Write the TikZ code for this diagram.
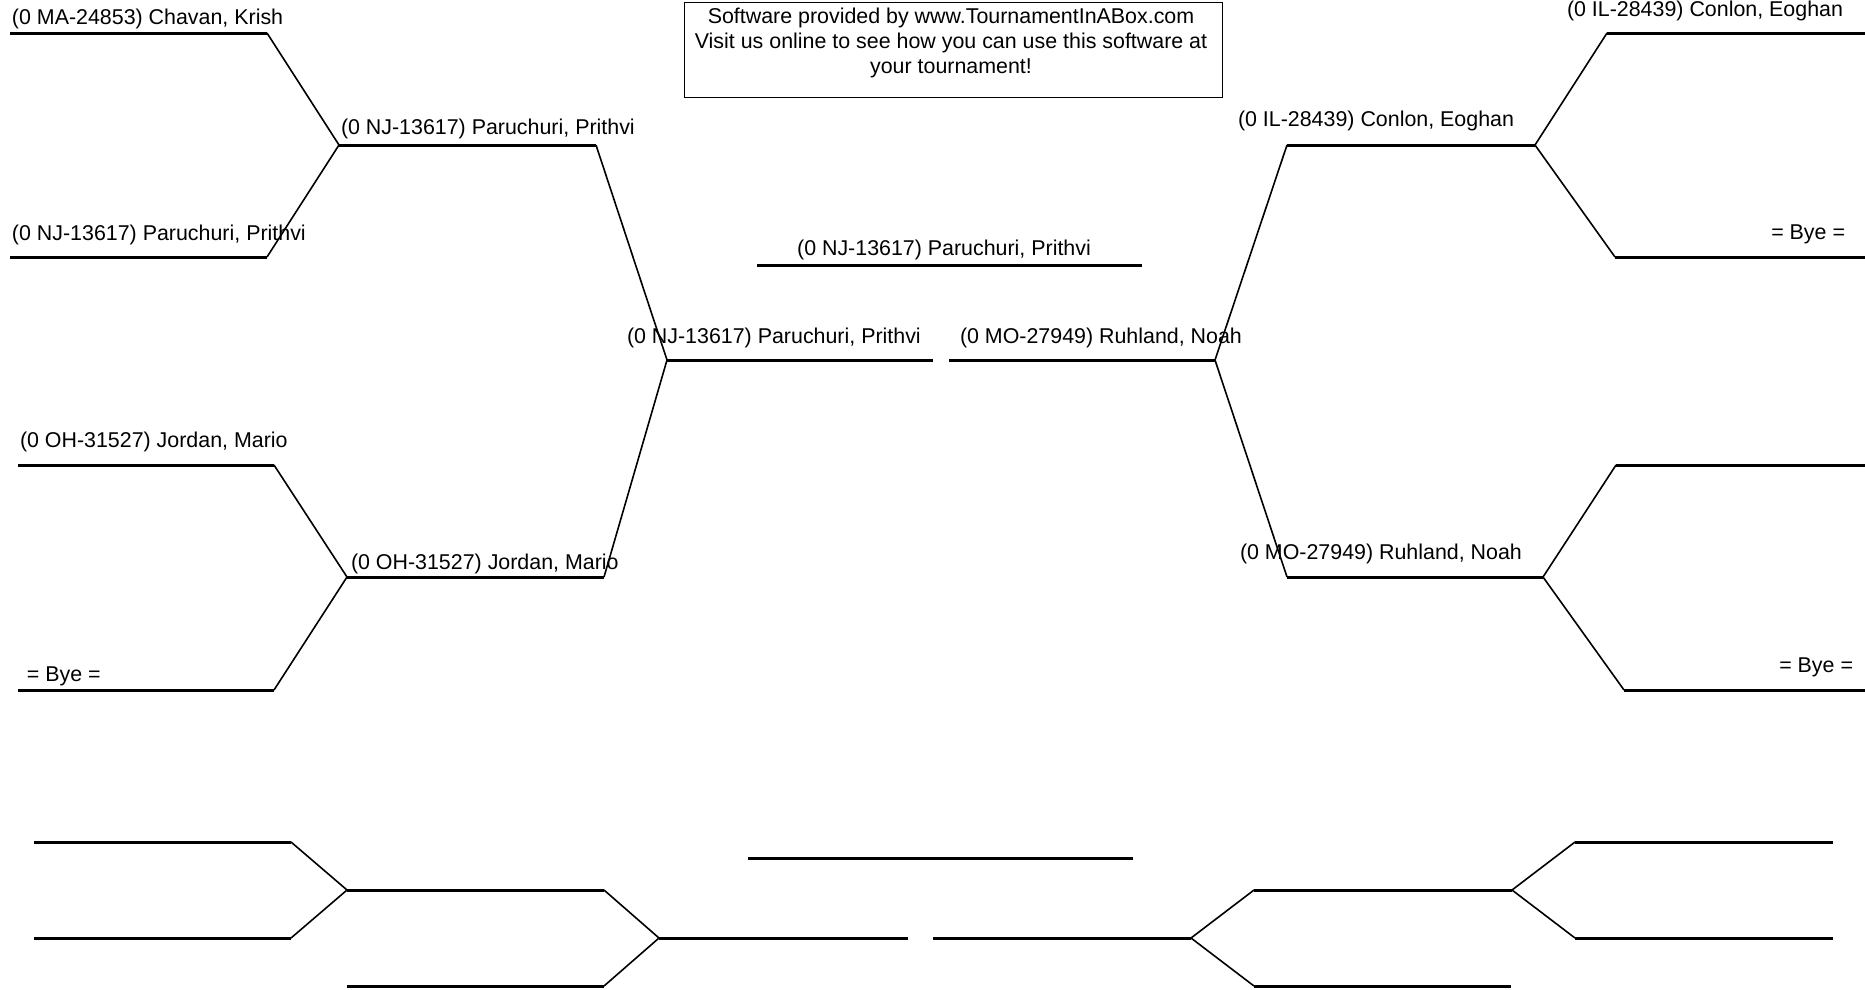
\documentclass[tikz,border=0pt]{standalone}
\usepackage{fontspec}
\setmainfont{Liberation Sans}
\begin{document}
\begin{tikzpicture}[x=1pt,y=-1pt,
  hline/.style={line width=3pt,line cap=butt},
  dline/.style={line width=1.6pt},
  lbl/.style={inner sep=0pt,outer sep=0pt,font=\fontsize{21.4}{24.6}\selectfont},
  lw/.style={lbl,anchor=base west},
  le/.style={lbl,anchor=base east},
  lc/.style={lbl,anchor=base}]
\useasboundingbox[fill=white] (0,0) rectangle (1865,989);
% ---------- header box ----------
\node[draw,line width=1pt,minimum width=538pt,minimum height=95pt,inner sep=0pt] (box) at (953,49.5) {};
\node[lc] (b1) at (951,23) {Software provided by www.TournamentInABox.com};
\node[lc] (b2) at (951,48) {Visit us online to see how you can use this software at};
\node[lc] (b3) at (951,73) {your tournament!};
% ---------- coordinates upper bracket ----------
\coordinate (a1s) at (10,33);   \coordinate (a1e) at (267,33);
\coordinate (a2s) at (10,257);  \coordinate (a2e) at (267,257);
\coordinate (a3s) at (18,465);  \coordinate (a3e) at (274,465);
\coordinate (a4s) at (18,690);  \coordinate (a4e) at (274,690);
\coordinate (b1s) at (339,145); \coordinate (b1e) at (596,145);
\coordinate (b2s) at (347,577); \coordinate (b2e) at (604,577);
\coordinate (c1s) at (667,360); \coordinate (c1e) at (933,360);
\coordinate (fs) at (757,265);  \coordinate (fe) at (1142,265);
\coordinate (c2s) at (949,360); \coordinate (c2e) at (1215,360);
\coordinate (d1s) at (1287,145); \coordinate (d1e) at (1535,145);
\coordinate (d2s) at (1287,577); \coordinate (d2e) at (1543,577);
\coordinate (e1s) at (1607,33);  \coordinate (e1e) at (1865,33);
\coordinate (e2s) at (1615,257); \coordinate (e2e) at (1865,257);
\coordinate (e3s) at (1616,465); \coordinate (e3e) at (1865,465);
\coordinate (e4s) at (1624,690); \coordinate (e4e) at (1865,690);
% horizontal lines
\foreach \p in {a1,a2,a3,a4,b1,b2,c1,f,c2,d1,d2,e1,e2,e3,e4}
  \draw[hline] (\p s) -- (\p e);
% diagonals
\draw[dline] (a1e) -- (b1s) -- (a2e);
\draw[dline] (a3e) -- (b2s) -- (a4e);
\draw[dline] (b1e) -- (c1s) -- (b2e);
\draw[dline] (d1s) -- (c2e) -- (d2s);
\draw[dline] (e1s) -- (d1e) -- (e2s);
\draw[dline] (e3s) -- (d2e) -- (e4s);
% labels
\node[lw] (t1) at (12,24) {(0 MA-24853) Chavan, Krish};
\node[lw] (t2) at (12,240) {(0 NJ-13617) Paruchuri, Prithvi};
\node[lw] (t3) at (341,134) {(0 NJ-13617) Paruchuri, Prithvi};
\node[lw] (t4) at (20,447) {(0 OH-31527) Jordan, Mario};
\node[lw] (t5) at (27,681) {= Bye =};
\node[lw] (t6) at (351,569) {(0 OH-31527) Jordan, Mario};
\node[lw] (t7) at (627,343) {(0 NJ-13617) Paruchuri, Prithvi};
\node[lw] (t8) at (960,343) {(0 MO-27949) Ruhland, Noah};
\node[lc] (t9) at (944,255) {(0 NJ-13617) Paruchuri, Prithvi};
\node[lw] (t10) at (1238,126) {(0 IL-28439) Conlon, Eoghan};
\node[lw] (t11) at (1567,16) {(0 IL-28439) Conlon, Eoghan};
\node[le] (t12) at (1845,239) {= Bye =};
\node[lw] (t13) at (1240,559) {(0 MO-27949) Ruhland, Noah};
\node[le] (t14) at (1853,672) {= Bye =};
% ---------- lower empty bracket ----------
\coordinate (p1s) at (34,842);  \coordinate (p1e) at (291,842);
\coordinate (p2s) at (34,938);  \coordinate (p2e) at (291,938);
\coordinate (q1s) at (347,890); \coordinate (q1e) at (604,890);
\coordinate (q2s) at (347,986); \coordinate (q2e) at (604,986);
\coordinate (r1s) at (659,938); \coordinate (r1e) at (908,938);
\coordinate (gs) at (748,858);  \coordinate (ge) at (1133,858);
\coordinate (r2s) at (933,938); \coordinate (r2e) at (1191,938);
\coordinate (s1s) at (1254,890); \coordinate (s1e) at (1512,890);
\coordinate (s2s) at (1254,986); \coordinate (s2e) at (1511,986);
\coordinate (u1s) at (1575,842); \coordinate (u1e) at (1833,842);
\coordinate (u2s) at (1575,938); \coordinate (u2e) at (1833,938);
\foreach \p in {p1,p2,q1,q2,r1,g,r2,s1,s2,u1,u2}
  \draw[hline] (\p s) -- (\p e);
\draw[dline] (p1e) -- (q1s) -- (p2e);
\draw[dline] (q1e) -- (r1s) -- (q2e);
\draw[dline] (s1s) -- (r2e) -- (s2s);
\draw[dline] (u1s) -- (s1e) -- (u2s);
\end{tikzpicture}
\end{document}
